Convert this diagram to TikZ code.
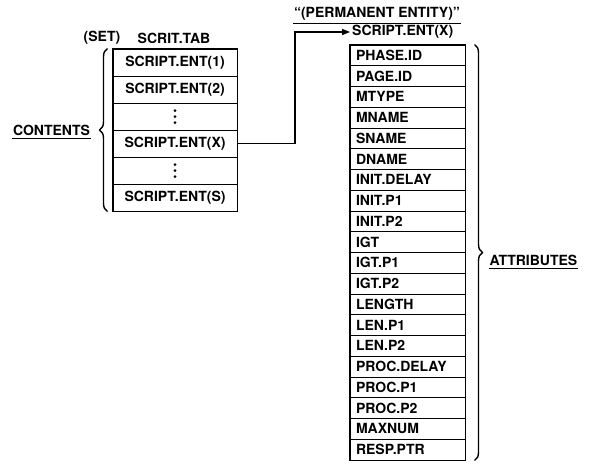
\documentclass[tikz,border=0pt]{standalone}
\usepackage{fontspec}
\setmainfont{TeX Gyre Heros}
\usetikzlibrary{positioning,arrows.meta,calc,decorations.pathreplacing}

\tikzset{
  setrow/.style={draw,line width=1pt,minimum width=124pt,minimum height=27pt,inner sep=0pt},
  attrow/.style={draw,line width=1pt,minimum height=20.75pt,inner xsep=6pt,inner ysep=0pt,text width=103pt,align=left},
  lbl/.style={inner sep=1pt},
  brc/.style={line width=1.4pt,decorate,decoration={brace,amplitude=8pt}},
}

\begin{document}
\begin{tikzpicture}[x=1pt,y=1pt,font=\bfseries\fontsize{14}{16}\selectfont]
\useasboundingbox (0,0) rectangle (589,-469);

% Set table
\node[lbl] (setlbl) at (102,-38) {(SET)};
\node[lbl] (tablbl) at (174,-38) {SCRIT.TAB};
\node[setrow] (tab1) at (175,-62.5) {SCRIPT.ENT(1)};
\node[setrow] (tab2) at (175,-89.5) {SCRIPT.ENT(2)};
\node[setrow] (tab3) at (175,-116.5) {};
\node[setrow] (tabX) at (175,-143.5) {SCRIPT.ENT(X)};
\node[setrow] (tab5) at (175,-170.5) {};
\node[setrow] (tabS) at (175,-197.5) {SCRIPT.ENT(S)};
\foreach \d in {-6,0,6} {
  \fill ([yshift=\d pt]tab3.center) circle (1.5pt);
  \fill ([yshift=\d pt]tab5.center) circle (1.5pt);
}
\draw[line width=1.9pt] (tab1.north west) rectangle (tabS.south east);
\draw[brc] ([xshift=-5pt]tabS.south west) -- ([xshift=-5pt]tab1.north west);
\node[lbl] (contents) at (51.5,-130) {CONTENTS};
\draw[line width=1pt] ([yshift=-2pt]contents.south west) -- ([yshift=-2pt]contents.south east);

% Permanent entity
\node[lbl] (perm) at (377,-14) {``(PERMANENT ENTITY)''};
\draw[line width=1pt] ([yshift=-2pt]perm.south west) -- ([yshift=-2pt]perm.south east);
\node[anchor=west,inner sep=2pt] (entX) at (350,-32) {SCRIPT.ENT(X)};
\foreach \name [count=\i] in {PHASE.ID,PAGE.ID,MTYPE,MNAME,SNAME,DNAME,INIT.DELAY,INIT.P1,INIT.P2,IGT,IGT.P1,IGT.P2,LENGTH,LEN.P1,LEN.P2,PROC.DELAY,PROC.P1,PROC.P2,MAXNUM,RESP.PTR}
  \node[attrow] (att\i) at (407.5,{-45-20.75*(\i-0.5)}) {\name};
\draw[line width=1.9pt] (att1.north west) rectangle (att20.south east);
\draw[brc] ([xshift=9pt]att1.north east) -- ([xshift=9pt]att20.south east);
\node[lbl] (attrs) at (533.5,-260) {ATTRIBUTES};
\draw[line width=1pt] ([yshift=-2pt]attrs.south west) -- ([yshift=-2pt]attrs.south east);

% Pointer to the entity
\draw[line width=1.4pt,-{Triangle[length=8pt,width=6pt]}] (tabX.east) -| ([xshift=-55pt]entX.west) -- (entX.west);
\end{tikzpicture}
\end{document}
